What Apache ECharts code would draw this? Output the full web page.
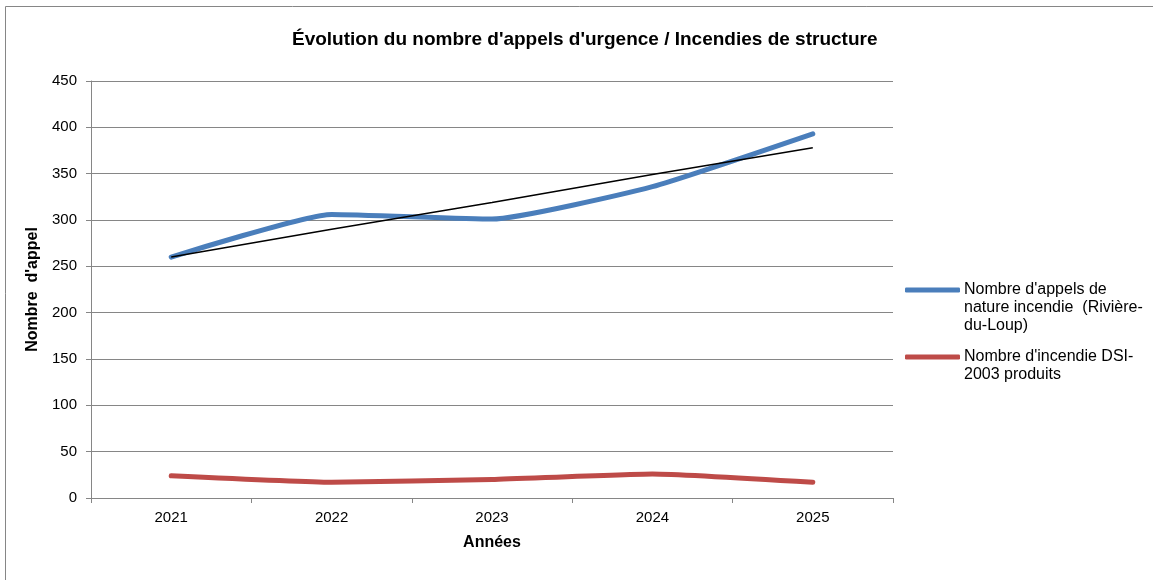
<!DOCTYPE html>
<html>
<head>
<meta charset="utf-8">
<script src="https://cdn.jsdelivr.net/npm/echarts@6/dist/echarts.min.js"></script>
<style>
html,body{margin:0;padding:0;background:#fff;}
#chart{width:1153px;height:580px;}
</style>
</head>
<body>
<div id="chart"></div>
<script>
// valeurs
var annees = ['2021', '2022', '2023', '2024', '2025'];
var appelsIncendie = [260, 306, 301, 336, 393];
var incendiesDSI = [24, 17, 20, 26, 17];
var tendance = [260, 290, 319, 349, 378];
var yTicks = [0, 50, 100, 150, 200, 250, 300, 350, 400, 450];

var nomAppels = "Nombre d'appels de\nnature incendie  (Rivière-\ndu-Loup)";
var nomDSI = "Nombre d'incendie DSI-\n2003 produits";

var police = 'Liberation Sans, Arial, sans-serif';
var gris = '#868686';

var myChart = echarts.init(document.getElementById('chart'));
var option = {
	backgroundColor: '#fff',
	animation: false,
	graphic: [
		{
			type: 'rect',
			shape: {x: 5.5, y: 6.5, width: 1300, height: 700},
			style: {fill: 'none', stroke: gris, lineWidth: 1}
		}
	],
	title: {
		text: "Évolution du nombre d'appels d'urgence / Incendies de structure",
		left: 287,
		top: 25,
		textStyle: {fontFamily: police, fontSize: 19, fontWeight: 'bold', color: '#000'}
	},
	legend: {
		orient: 'vertical',
		left: 900,
		top: 240,
		itemWidth: 55,
		itemHeight: 5,
		itemGap: -5,
		icon: 'roundRect',
		data: ['appels', 'dsi'],
		formatter: function (name) {
			// lignes vides en tête pour aligner le trait sur la première ligne
			if (name == 'appels') return '\n\n' + nomAppels;
			return '\n' + nomDSI;
		},
		textStyle: {fontFamily: police, fontSize: 16, color: '#000', lineHeight: 18, padding: [0, 0, 0, -1]}
	},
	grid: {left: 91, right: 260, top: 81, bottom: 82},
	xAxis: {
		type: 'category',
		data: annees,
		boundaryGap: true,
		name: 'Années',
		nameLocation: 'middle',
		nameGap: 37,
		nameTextStyle: {fontFamily: police, fontSize: 16, fontWeight: 'bold', color: '#000'},
		axisLine: {lineStyle: {color: gris, width: 1}},
		axisTick: {show: true, length: 5, lineStyle: {color: gris}},
		axisLabel: {fontFamily: police, fontSize: 15, color: '#000', margin: 12},
		splitLine: {show: false}
	},
	yAxis: {
		type: 'value',
		min: yTicks[0],
		max: yTicks[yTicks.length - 1],
		interval: 50,
		name: "Nombre  d'appel",
		nameLocation: 'middle',
		nameGap: 49,
		nameTextStyle: {fontFamily: police, fontSize: 16, fontWeight: 'bold', color: '#000'},
		axisLine: {show: true, lineStyle: {color: gris, width: 1}},
		axisTick: {show: true, length: 5, lineStyle: {color: gris}},
		axisLabel: {fontFamily: police, fontSize: 15, color: '#000', margin: 14},
		splitLine: {show: true, lineStyle: {color: gris, width: 1}}
	},
	series: [
		{
			name: 'appels',
			type: 'line',
			data: appelsIncendie,
			symbol: 'none',
			smooth: 0.15,
			itemStyle: {color: '#4a7ebb'},
			lineStyle: {color: '#4a7ebb', width: 5, cap: 'round', join: 'round'},
			z: 3
		},
		{
			name: 'dsi',
			type: 'line',
			data: incendiesDSI,
			symbol: 'none',
			smooth: 0.15,
			itemStyle: {color: '#be4b48'},
			lineStyle: {color: '#be4b48', width: 5, cap: 'round', join: 'round'},
			z: 3
		},
		{
			name: 'tendance',
			type: 'line',
			data: tendance,
			symbol: 'none',
			lineStyle: {color: '#000', width: 1.5},
			z: 4
		}
	]
};
myChart.setOption(option);
</script>
</body>
</html>
